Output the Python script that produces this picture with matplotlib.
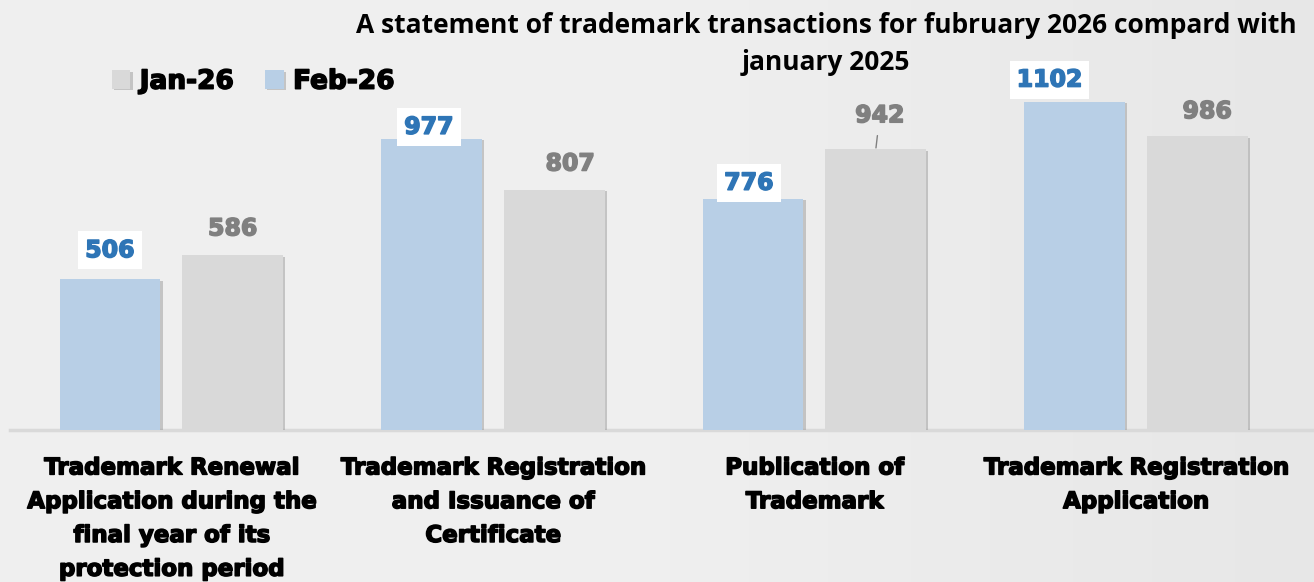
import matplotlib.pyplot as plt
import matplotlib.patheffects as pe
import numpy as np

categories = [
    "Trademark Renewal\nApplication during the\nfinal year of its\nprotection period",
    "Trademark Registration\nand Issuance of\nCertificate",
    "Publication of\nTrademark",
    "Trademark Registration\nApplication",
]
feb_26 = [506, 977, 776, 1102]
jan_26 = [586, 807, 942, 986]

title = "A statement of trademark transactions for fubruary 2026 compard with\njanuary 2025"

blue = "#b8cfe6"
grey = "#d9d9d9"
bg = "#efefef"
heavy = "DejaVu Sans"

# label nudges in pixels, as placed in the original
feb_nudge = [(0, 29), (-2.5, 12), (-4, 16), (-25, 22)]
jan_nudge = [(0, 27), (16, 26), (4, 34), (10, 25)]


def thick(color, lw=1.1):
    return [pe.withStroke(linewidth=lw, foreground=color)]


fig = plt.figure(figsize=(13.14, 5.82), dpi=100, facecolor=bg)

# soft grey backdrop, a little darker toward the right
back = fig.add_axes([0, 0, 1, 1], zorder=-1)
shade = np.clip((np.linspace(0, 1, 300) - 0.45) / 0.55, 0, 1)
level = 0.941 - 0.035 * shade
img = np.repeat(level[None, :, None], 3, axis=2)
back.imshow(img, aspect="auto", extent=[0, 1, 0, 1])
back.axis("off")

ax = fig.add_axes([10 / 1314, 152 / 582, 1304 / 1314, 430 / 582])
ax.set_facecolor("none")

x = np.arange(len(categories))
w = 0.314
off = 0.191
shadow = [pe.SimplePatchShadow(offset=(1.5, -1), shadow_rgbFace="#9a9a9a", alpha=0.5), pe.Normal()]

b_feb = ax.bar(x - off, feb_26, w, color=blue, label="Feb-26", zorder=3)
b_jan = ax.bar(x + off, jan_26, w, color=grey, label="Jan-26", zorder=3)
for b in list(b_feb) + list(b_jan):
    b.set_path_effects(shadow)

ax.set_xlim(-0.502, 3.554)
ax.set_ylim(0, 1443)

for xi, v, (dx, dy) in zip(x, feb_26, feb_nudge):
    ax.annotate(str(v), (xi - off, v), xytext=(dx, dy), textcoords="offset pixels",
                ha="center", va="center", fontsize=17, color="#2e75b6",
                family=heavy, weight="bold", zorder=5, path_effects=thick("#2e75b6"),
                bbox=dict(boxstyle="square,pad=0.3", fc="white", ec="none"))

for i, (xi, v, (dx, dy)) in enumerate(zip(x, jan_26, jan_nudge)):
    arrow = None
    if i == 2:
        arrow = dict(arrowstyle="-", color="#808080", lw=1, shrinkA=4, shrinkB=1)
    ax.annotate(str(v), (xi + off, v), xytext=(dx, dy), textcoords="offset pixels",
                ha="center", va="center", fontsize=17, color="#808080",
                family=heavy, weight="bold", zorder=5, path_effects=thick("#808080"),
                arrowprops=arrow)

for s in ["top", "right", "left"]:
    ax.spines[s].set_visible(False)
ax.spines["bottom"].set_color("#d9d9d9")
ax.spines["bottom"].set_linewidth(2.5)
ax.set_yticks([])
ax.set_xticks(x)
ax.set_xticklabels(categories, fontsize=16.5, family=heavy, weight="bold",
                   linespacing=1.6, va="top")
for t in ax.get_xticklabels():
    t.set_path_effects(thick("black"))
ax.tick_params(axis="x", length=0, pad=19)

handles = [b_jan, b_feb]
leg = ax.legend(handles, ["Jan-26", "Feb-26"], loc="center left", bbox_to_anchor=(0.060, 0.81),
                ncol=2, frameon=False, handlelength=0.7, handleheight=0.7, handletextpad=0.35,
                columnspacing=1.2, prop=dict(family=heavy, weight="bold", size=19))
for t in leg.get_texts():
    t.set_path_effects(thick("black"))

fig.text(826 / 1314, 1 - 44 / 582, title, ha="center", va="center", fontsize=19,
         family=["Open Sans", "DejaVu Sans"], weight="bold", linespacing=1.5)

fig.savefig("out.png", dpi=100, facecolor=bg)
